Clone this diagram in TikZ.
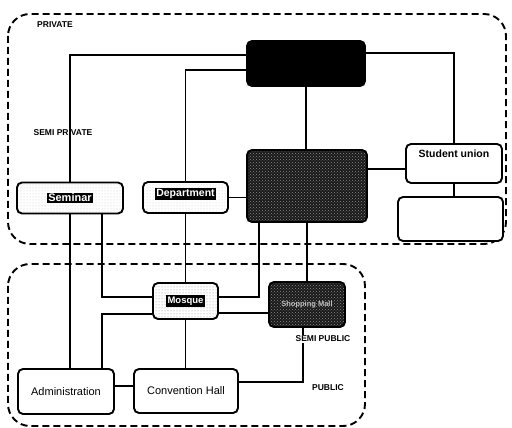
\documentclass[tikz,border=0pt]{standalone}
\usepackage{fontspec}
\setmainfont{Liberation Sans}
\usetikzlibrary{patterns,calc}
\pgfdeclarelayer{background}
\pgfsetlayers{background,main}
\newcommand{\hltext}[1]{{\setlength{\fboxsep}{1.3pt}\colorbox{black}{\textcolor{white}{\bfseries #1}}}}
\begin{document}
\begin{tikzpicture}[x=1pt,y=1pt,
  box/.style={draw=black, line width=1.9pt, rounded corners=5pt, inner sep=0pt, fill=white},
  dotbox/.style={box, preaction={fill=white}, pattern=dots, pattern color=black!22},
  mosbox/.style={box, preaction={fill=white}, pattern=dots, pattern color=black!45},
  darkbox/.style={box, preaction={fill=black!90}, pattern=crosshatch dots, pattern color=black!45},
  blackbox/.style={box, fill=black},
  conn/.style={draw=black, line width=1.6pt},
  zone/.style={draw=black, line width=1.9pt, dash pattern=on 7pt off 4pt, rounded corners=22pt},
  tag/.style={font=\bfseries\fontsize{8.5}{9}\selectfont, inner sep=1pt}
]
\useasboundingbox (0,0) rectangle (512,428);

% zones
\draw[zone] (8,414) rectangle (506,184);
\draw[zone] (8,164) rectangle (365,2);

% nodes
\node[blackbox, minimum width=118pt, minimum height=45pt] (top) at (306,364.5) {};
\node[darkbox, minimum width=120pt, minimum height=72pt] (hatch) at (307,242) {};
\node[box, minimum width=96pt, minimum height=39pt,
  label={[anchor=north, yshift=-3pt, font=\bfseries\fontsize{10.5}{11}\selectfont]north:Student union}] (su) at (454,264.5) {};
\node[box, minimum width=105pt, minimum height=44pt] (blank) at (450.5,209) {};
\node[dotbox, minimum width=106pt, minimum height=31pt] (sem) at (70,230) {\fontsize{11}{12}\selectfont\hltext{Seminar}};
\node[dotbox, minimum width=85pt, minimum height=31pt,
  label={[anchor=north, yshift=-3pt, font=\fontsize{10.5}{11}\selectfont]north:\hltext{Department}}] (dep) at (185.5,230.5) {};
\node[mosbox, minimum width=65pt, minimum height=36pt] (mos) at (185.5,127) {\fontsize{9.5}{10}\selectfont\hltext{Mosque}};
\node[darkbox, minimum width=76pt, minimum height=45pt] (sp) at (307,123.5) {\textcolor{black!25}{\bfseries\fontsize{7.5}{8}\selectfont Shopping Mall}};
\node[box, minimum width=96pt, minimum height=45pt] (adm) at (66,36.5) {\fontsize{11}{12}\selectfont Administration};
\node[box, minimum width=104pt, minimum height=44pt] (con) at (186,37) {\fontsize{11}{12}\selectfont Convention Hall};

% labels
\node[tag] (lpriv) at (55,403) {PRIVATE};
\node[tag] (lsemipriv) at (63,295) {SEMI PRIVATE};
\node[tag] (lpub) at (328,40) {PUBLIC};
\node[tag, fill=white] (lsemipub) at (323,89) {SEMI PUBLIC};

% connectors
\begin{pgfonlayer}{background}
\draw[conn] ([yshift=8.5pt]top.west) -| (sem.north);
\draw[conn] ([yshift=-6.5pt]top.west) -| (dep.north);
\draw[conn] ([yshift=10.5pt]top.east) -| (su.north);
\draw[conn] (top.south) -- (top.south |- hatch.north);
\coordinate (h1) at ($(hatch.east)+(0,17)$);
\draw[conn] (h1) -- (h1 -| su.west);
\draw[conn] (dep.east) -- (dep.east -| hatch.west);
\draw[conn] (su.south) -- (su.south |- blank.north);
\draw[conn] (sem.south) -- (sem.south |- adm.north);
\draw[conn] ([xshift=32pt]sem.south) |- ([yshift=4pt]mos.west);
\draw[conn] ([yshift=-13pt]mos.west) -| ([xshift=36pt]adm.north);
\draw[conn] (dep.south) -- (mos.north);
\draw[conn] (mos.south) -- (mos.south |- con.north);
\draw[conn] ([yshift=4pt]mos.east) -| ([xshift=-48pt]hatch.south);
\coordinate (m1) at ($(mos.east)+(0,-12)$);
\draw[conn] (m1) -- (m1 -| sp.west);
\draw[conn] (hatch.south) -- (hatch.south |- sp.north);
\draw[conn] ([xshift=-4pt]sp.south) |- ([yshift=9pt]con.east);
\coordinate (a1) at ($(adm.east)+(0,5.5)$);
\draw[conn] (a1) -- (a1 -| con.west);
\end{pgfonlayer}
\end{tikzpicture}
\end{document}
